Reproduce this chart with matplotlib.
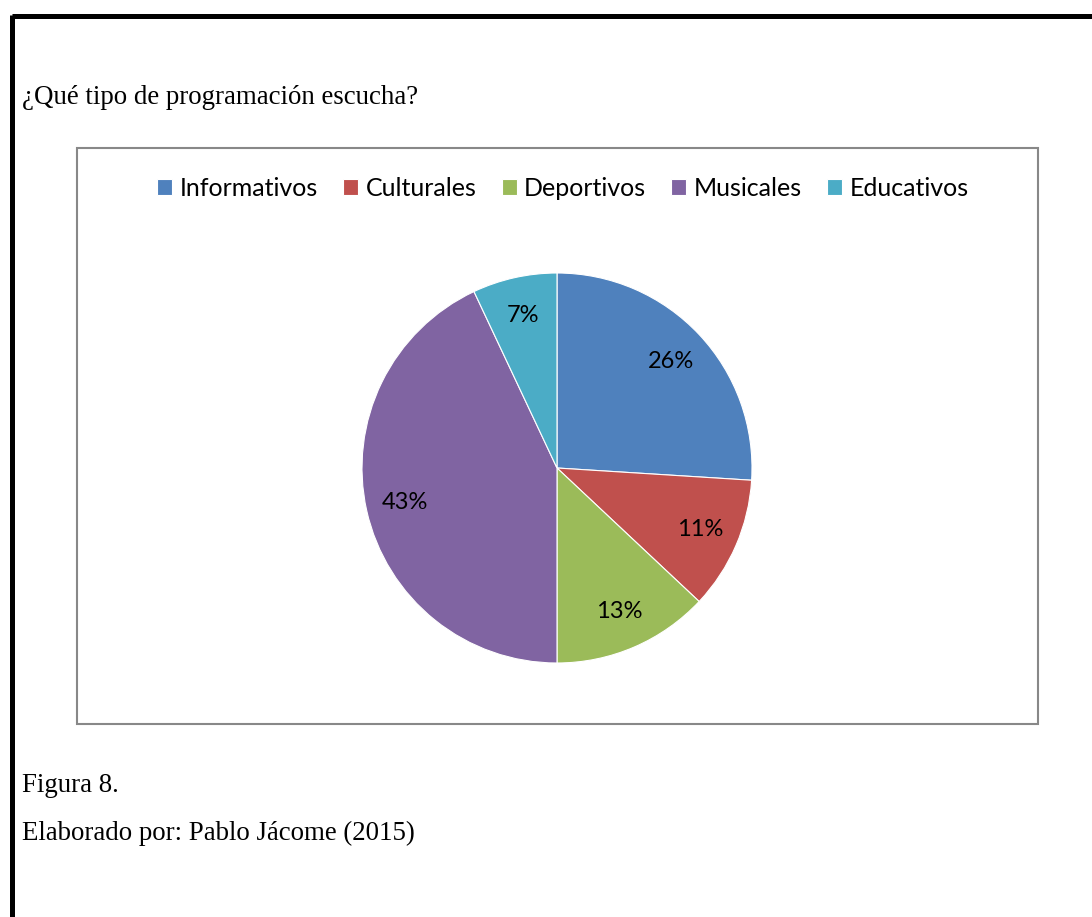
import matplotlib.pyplot as plt
from matplotlib.patches import Rectangle
from matplotlib.lines import Line2D

# ------------------------------------------------------------
# DATA
# ------------------------------------------------------------
categories = ["Informativos", "Culturales", "Deportivos", "Musicales", "Educativos"]
shares = [26, 11, 13, 43, 7]
colors = ["#4F81BD", "#C0504D", "#9BBB59", "#8064A2", "#4BACC6"]

question = "¿Qué tipo de programación escucha?"
caption = "Figura 8."
source = "Elaborado por: Pablo Jácome (2015)"

W, H = 1092, 917


def fx(px):
    return px / W


def fy(py):
    # image y (from top) -> figure fraction (from bottom)
    return 1 - py / H


fig = plt.figure(figsize=(W / 100, H / 100), dpi=100)
fig.patch.set_facecolor("white")

# page border (top and left)
fig.add_artist(Line2D([fx(12), 1.0], [fy(16), fy(16)], color="black", lw=3.6,
                      solid_capstyle="butt"))
fig.add_artist(Line2D([fx(12), fx(12)], [fy(14.5), 0.0], color="black", lw=3.6,
                      solid_capstyle="butt"))

# serif document text
serif = "Liberation Serif"
fig.text(fx(22), fy(97), question, family=serif, fontsize=19.4, va="center", ha="left")
fig.text(fx(22), fy(785), caption, family=serif, fontsize=19.4, va="center", ha="left")
fig.text(fx(22), fy(833), source, family=serif, fontsize=19.4, va="center", ha="left")

# chart frame
fig.add_artist(Rectangle((fx(77), fy(724)), fx(1038 - 77), (724 - 148) / H,
                         transform=fig.transFigure, fill=False,
                         edgecolor="#888888", lw=1.5))

# pie
cx, cy, r = 557, 468, 195
ax = fig.add_axes([fx(cx - r), fy(cy + r), fx(2 * r), 2 * r / H])
wedges, _, autotexts = ax.pie(
    shares,
    colors=colors,
    startangle=90,
    counterclock=False,
    autopct=lambda p: f"{p:.0f}%",
    pctdistance=0.80,
    wedgeprops=dict(edgecolor="white", linewidth=0.8),
    textprops=dict(family="Lato", fontsize=17, color="black"),
)
ax.set_xlim(-1, 1)
ax.set_ylim(-1, 1)
ax.set_aspect("equal")
ax.axis("off")

fig.legend(
    wedges, categories,
    loc="center", bbox_to_anchor=(fx(563), fy(188)),
    ncol=5, frameon=False,
    prop=dict(family="Lato", size=18),
    handlelength=0.6, handleheight=0.6, handletextpad=0.3,
    columnspacing=1.0,
)

fig.savefig("out.png", dpi=100)
